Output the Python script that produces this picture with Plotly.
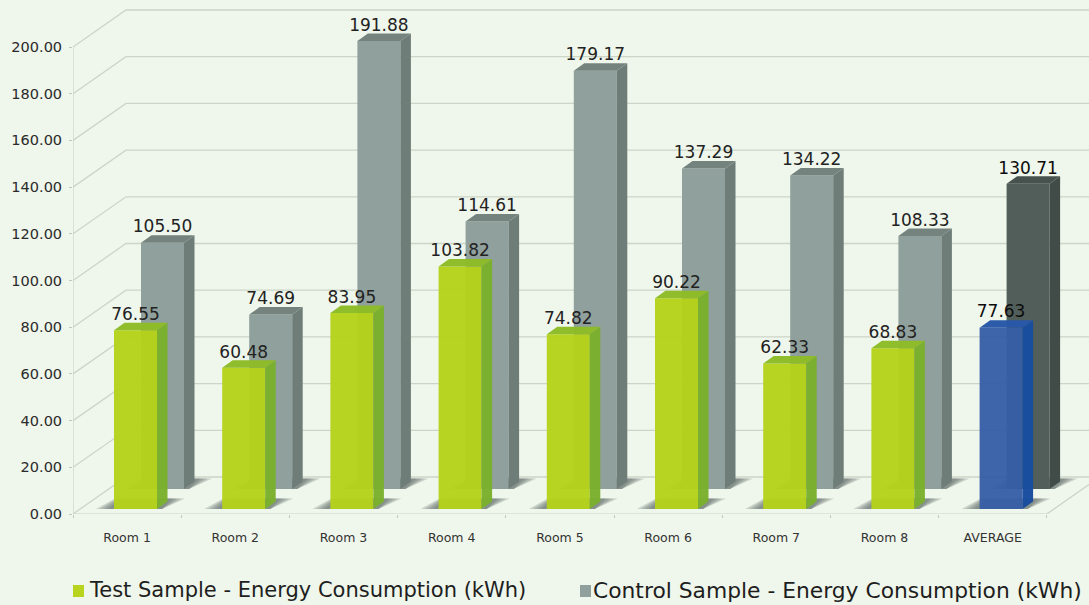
import plotly.graph_objects as go

rooms = ["Room 1", "Room 2", "Room 3", "Room 4", "Room 5", "Room 6", "Room 7", "Room 8", "AVERAGE"]
test_values = [76.55, 60.48, 83.95, 103.82, 74.82, 90.22, 62.33, 68.83, 77.63]
control_values = [105.50, 74.69, 191.88, 114.61, 179.17, 137.29, 134.22, 108.33, 130.71]
y_ticks = [0, 20, 40, 60, 80, 100, 120, 140, 160, 180, 200]

W, H = 1089, 605
L, B = 73, 91
PX_X = 108.2            # pixels per category
PX_Y = 2.335            # pixels per unit
BG = "#eff6eb"

def dx(p): return p / PX_X
def dy(p): return p / PX_Y

traces = []

def poly_trace(polys, color, name=""):
    xs, ys = [], []
    for p in polys:
        xs += [a for a, _ in p] + [p[0][0], None]
        ys += [b for _, b in p] + [p[0][1], None]
    return go.Scatter(x=xs, y=ys, mode="lines", fill="toself", fillcolor=color,
                      line=dict(width=0), hoverinfo="skip", showlegend=False, name=name)

# wall / floor furniture
wall_dx, wall_dy = dx(53), dy(37)
gx, gy = [], []
for v in y_ticks:
    gx += [0, wall_dx, 10, None]
    gy += [v, v + wall_dy, v + wall_dy, None]
traces.append(go.Scatter(x=gx, y=gy, mode="lines", line=dict(color="#ccd5c8", width=1.3),
                         hoverinfo="skip", showlegend=False, name="grid"))
traces.append(go.Scatter(x=[0, 0, None, 0, 9, 9 + wall_dx], y=[200, 0, None, 0, 0, wall_dy], mode="lines",
                         line=dict(color="#c9d2c6", width=1.2), hoverinfo="skip", showlegend=False, name="axes"))

BAR_W = dx(43)
SIDE_X, SIDE_Y = dx(10.5), dy(7.5)

def bar_polys(x0, base, value):
    top = base + value
    x1 = x0 + BAR_W
    face = [(x0, base), (x1, base), (x1, top), (x0, top)]
    side = [(x1, base), (x1 + SIDE_X, base + SIDE_Y), (x1 + SIDE_X, top + SIDE_Y), (x1, top)]
    cap = [(x0, top), (x1, top), (x1 + SIDE_X, top + SIDE_Y), (x0 + SIDE_X, top + SIDE_Y)]
    return face, side, cap

def shadow_polys(x0, base, grow):
    x1 = x0 + BAR_W
    h = dy(10.5)
    return [(x0 - dx(18) + dx(grow), base), (x1 + dx(5), base), (x1 + dx(28) - dx(grow), base + h),
            (x0 + dx(1) + dx(grow * 0.5), base + h)]

GREEN_X0 = dx(114 - L)
GRAY_X0 = dx(141 - L)
GREEN_BASE = dy(514 - 509)
GRAY_BASE = dy(514 - 489)

def shadows(x0s, base):
    out = []
    for grow in (0, 4, 8, 12):
        out.append(poly_trace([shadow_polys(x, base, grow) for x in x0s], "rgba(85,98,92,0.24)", "shadow"))
    return out

def add_bars(values, x_off, base, face_c, side_c, cap_c, name):
    parts = [bar_polys(x_off + i, base, v) for i, v in values]
    traces.append(poly_trace([p[0] for p in parts], face_c, name))
    traces.append(poly_trace([p[1] for p in parts], side_c, name + " side"))
    traces.append(poly_trace([p[2] for p in parts], cap_c, name + " top"))

n = len(rooms)
traces += shadows([GRAY_X0 + i for i in range(n)], GRAY_BASE)
add_bars(list(enumerate(control_values))[:-1], GRAY_X0, GRAY_BASE, "#90a09c", "#6f7d79", "#75837f",
         "Control Sample - Energy Consumption (kWh)")
add_bars([(n - 1, control_values[-1])], GRAY_X0, GRAY_BASE, "#515e5a", "#414c49", "#47524f", "Control average")
traces += shadows([GREEN_X0 + i for i in range(n)], GREEN_BASE)
add_bars(list(enumerate(test_values))[:-1], GREEN_X0, GREEN_BASE, "rgba(181,210,26,0.96)",
         "rgba(122,176,44,0.97)", "rgba(142,188,40,0.98)", "Test Sample - Energy Consumption (kWh)")
add_bars([(n - 1, test_values[-1])], GREEN_X0, GREEN_BASE, "rgba(54,94,166,0.96)",
         "rgba(24,76,158,0.98)", "rgba(40,88,168,0.98)", "Test average")

# value labels
def labels(values, x_off, base):
    return go.Scatter(
        x=[x_off + i + BAR_W / 2 for i in range(n)],
        y=[base + v + SIDE_Y + dy(7) for v in values],
        mode="text", text=[f"{v:.2f}" for v in values], textposition="middle center",
        textfont=dict(family="DejaVu Sans", size=17,
                      color=["#222222"] * (n - 1) + ["#0c0c0c"]),
        hoverinfo="skip", showlegend=False)

traces.append(labels(control_values, GRAY_X0, GRAY_BASE))
traces.append(labels(test_values, GREEN_X0, GREEN_BASE))

fig = go.Figure(traces)

fig.update_layout(
    width=W, height=H, autosize=False,
    margin=dict(l=L, r=0, t=0, b=B, autoexpand=False),
    paper_bgcolor=BG, plot_bgcolor=BG,
    showlegend=False,
    xaxis=dict(range=[0, (W - L) / PX_X], showgrid=False, zeroline=False, showline=False,
               tickmode="array", tickvals=[i + 0.5 for i in range(n)], ticktext=rooms,
               ticks="", ticklabelstandoff=14,
               tickfont=dict(family="DejaVu Sans", size=12.5, color="#333333"),
               minor=dict(tickmode="array", tickvals=list(range(n + 1)), ticks="outside",
                          ticklen=3, tickcolor="#c0c9bc", showgrid=False)),
    yaxis=dict(range=[0, (H - B) / PX_Y], showgrid=False, zeroline=False, showline=False,
               tickmode="array", tickvals=y_ticks, ticktext=[f"{v:.2f}" for v in y_ticks],
               ticks="outside", ticklen=3, tickcolor="#c0c9bc", ticklabelstandoff=4,
               tickfont=dict(family="DejaVu Sans", size=14.5, color="#2a2a2a")),
    shapes=[
        dict(type="rect", xref="paper", yref="paper", x0=0, x1=11/1016,
             y0=-83/514, y1=-71/514, fillcolor="#b9d41e", line=dict(width=0)),
        dict(type="rect", xref="paper", yref="paper", x0=507/1016, x1=518/1016,
             y0=-83/514, y1=-71/514, fillcolor="#90a09c", line=dict(width=0)),
    ],
    annotations=[
        dict(text="Test Sample - Energy Consumption (kWh)", xref="paper", yref="paper",
             x=14/1016, y=-76/514, xanchor="left", yanchor="middle", showarrow=False,
             font=dict(family="DejaVu Sans", size=21, color="#1e1e1e")),
        dict(text="Control Sample - Energy Consumption (kWh)", xref="paper", yref="paper",
             x=518/1016, y=-76/514, xanchor="left", yanchor="middle", showarrow=False,
             font=dict(family="DejaVu Sans", size=21.8, color="#1e1e1e")),
    ],
)
fig.write_html("out.html", config={"displayModeBar": False},
               post_script="document.body.style.margin='0';document.body.style.overflow='hidden';document.body.style.background='" + BG + "';")
